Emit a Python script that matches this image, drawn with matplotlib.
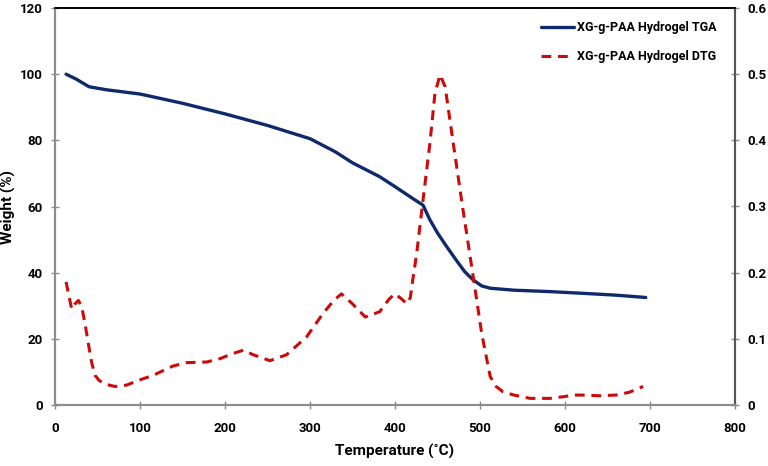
import matplotlib
matplotlib.use("Agg")
import matplotlib.pyplot as plt

# ---- data ----
tga_temp = [13, 25, 40, 60, 100, 150, 200, 250, 300, 330, 350, 382, 400, 421, 433, 441, 450, 461, 472, 482, 492, 502, 512, 540, 580, 618, 660, 695]
tga_weight = [100, 98.5, 96.2, 95.3, 94.0, 91.2, 88.0, 84.5, 80.5, 76.5, 73.2, 69.0, 66.0, 62.4, 60.4, 56.0, 52.0, 47.8, 43.8, 40.3, 37.8, 36.0, 35.3, 34.7, 34.3, 33.8, 33.2, 32.5]

dtg_temp = [13, 19.6, 23, 27.5, 31.4, 35, 39.2, 43, 47, 52, 57, 64, 70.6, 84, 100, 115.7, 139, 155, 178.5, 194, 209.8, 222, 233, 253, 272.5, 296, 315.7, 328, 337, 349, 365, 382, 393, 400, 408, 413.7, 418, 421, 425.5, 433, 441, 447, 453, 459, 468.6, 480, 492, 502, 512, 519, 527, 540, 559, 582, 598, 610, 621, 640, 660, 675, 692]
dtg_value = [0.186, 0.145, 0.152, 0.158, 0.149, 0.125, 0.093, 0.065, 0.045, 0.037, 0.033, 0.030, 0.028, 0.030, 0.038, 0.045, 0.059, 0.064, 0.065, 0.070, 0.078, 0.083, 0.076, 0.067, 0.076, 0.103, 0.139, 0.158, 0.168, 0.154, 0.133, 0.141, 0.160, 0.168, 0.160, 0.153, 0.162, 0.190, 0.229, 0.310, 0.395, 0.471, 0.499, 0.481, 0.395, 0.295, 0.194, 0.108, 0.043, 0.028, 0.020, 0.015, 0.010, 0.010, 0.0125, 0.015, 0.015, 0.014, 0.015, 0.019, 0.028]

xticks = [0, 100, 200, 300, 400, 500, 600, 700, 800]
yticks_left = [0, 20, 40, 60, 80, 100, 120]
yticks_right = [0, 0.1, 0.2, 0.3, 0.4, 0.5, 0.6]
yticklabels_right = ["0", "0.1", "0.2", "0.3", "0.4", "0.5", "0.6"]

plt.rcParams["font.family"] = ["Roboto", "DejaVu Sans"]
plt.rcParams["font.weight"] = "bold"
plt.rcParams["axes.labelweight"] = "bold"

fig = plt.figure(figsize=(7.68, 4.66), dpi=100)
ax = fig.add_axes([55/768, 61/466, 680/768, 397/466])
ax2 = ax.twinx()

navy = "#0F2A6B"
red = "#CC0A0A"
gray = "#8C8C8C"

l1, = ax.plot(tga_temp, tga_weight, color=navy, lw=2.4, label="XG-g-PAA Hydrogel TGA", solid_capstyle="round")
l2, = ax2.plot(dtg_temp, dtg_value, color=red, lw=2.2, ls=(0, (3.2, 2.2)), label="XG-g-PAA Hydrogel DTG")

ax.set_xlim(0, 800)
ax.set_ylim(0, 120)
ax2.set_ylim(0, 0.6)
ax.set_xticks(xticks)
ax.set_yticks(yticks_left)
ax2.set_yticks(yticks_right)
ax2.set_yticklabels(yticklabels_right)

for a in (ax, ax2):
    for s in ("left", "bottom", "right"):
        a.spines[s].set_color(gray)
        a.spines[s].set_linewidth(1.5)
    a.spines["top"].set_color("black")
    a.spines["top"].set_linewidth(1.2)
    a.tick_params(direction="inout", length=6, width=1, color=gray, labelsize=9.5)
ax.tick_params(axis="x", pad=9)
ax.tick_params(axis="y", pad=6)
ax2.tick_params(axis="y", pad=6)
ax2.spines["right"].set_color("#555555")

ax.set_xlabel("Temperature (˚C)", fontsize=11, fontweight="bold", labelpad=7)
ax.set_ylabel("Weight (%)", fontsize=11, fontweight="bold")
ax.yaxis.set_label_coords(-0.057, 0.5)

ax2.legend(handles=[l1, l2], loc="upper right", frameon=False,
           prop={"family": ["Roboto", "DejaVu Sans"], "size": 9, "weight": "bold"},
           handlelength=2.6, handletextpad=0.3, labelspacing=1.3,
           bbox_to_anchor=(0.99, 0.995))

fig.savefig("out.png", dpi=100)
